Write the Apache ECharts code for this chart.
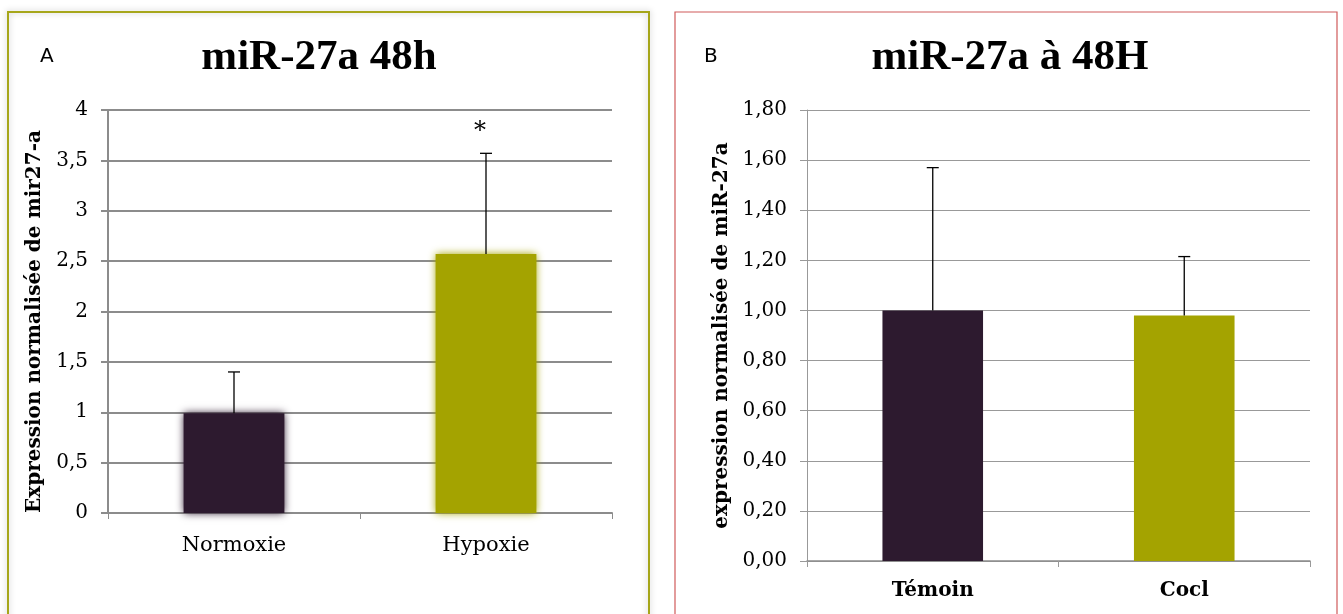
<!DOCTYPE html>
<html>
<head>
<meta charset="utf-8">
<script src="https://cdn.jsdelivr.net/npm/echarts@6/dist/echarts.min.js"></script>
<style>
  html, body { margin: 0; padding: 0; background: #fff; }
  #main { width: 1343px; height: 614px; }
</style>
</head>
<body>
<div id="main"></div>
<script>
// panel A
var catsA = ['Normoxie', 'Hypoxie'];
var valuesA = [0.99, 2.57];
var errorsA = [0.41, 1.0];
var starsA = ['', '*'];

// panel B
var catsB = ['Témoin', 'Cocl'];
var valuesB = [1.0, 0.98];
var errorsB = [0.57, 0.235];

var barColors = ['#2d1a2f', '#a4a300'];

var chartDom = document.getElementById('main');
var myChart = echarts.init(chartDom);
var option;

function errorBars(xIdx, vals, errs, stars) {
    return {
        type: 'custom',
        xAxisIndex: xIdx,
        yAxisIndex: xIdx,
        z: 5,
        data: vals.map(function (v, i) { return [i, v, v + errs[i]]; }),
        renderItem: function (params, api) {
            var lo = api.coord([api.value(0), api.value(1)]);
            var hi = api.coord([api.value(0), api.value(2)]);
            var children = [
                { type: 'line', shape: { x1: lo[0], y1: lo[1], x2: hi[0], y2: hi[1] }, style: { stroke: '#000', lineWidth: 1.3 } },
                { type: 'line', shape: { x1: hi[0] - 6, y1: hi[1], x2: hi[0] + 6, y2: hi[1] }, style: { stroke: '#000', lineWidth: 1.3 } }
            ];
            if (stars && stars[params.dataIndex]) {
                children.push({
                    type: 'text',
                    style: { text: stars[params.dataIndex], x: hi[0] - 6, y: hi[1] - 10, align: 'center', verticalAlign: 'bottom', font: '24px "DejaVu Serif"', fill: '#000' }
                });
            }
            return { type: 'group', children: children };
        }
    };
}

var fmt = function (d) {
    return function (v) { return v.toFixed(d).replace('.', ','); };
};

option = {
    animation: false,
    backgroundColor: '#fff',
    graphic: [
        { type: 'rect', shape: { x: 8, y: 12, width: 641, height: 610 }, style: { fill: 'none', stroke: '#a6a61a', lineWidth: 2, shadowBlur: 6, shadowColor: 'rgba(0,0,0,0.25)' } },
        { type: 'rect', shape: { x: 675, y: 12, width: 662, height: 610 }, style: { fill: 'none', stroke: '#d05a5a', lineWidth: 1.2 } },
        { type: 'text', style: { text: 'A', x: 40, y: 47, font: '20px "DejaVu Sans"', fill: '#000' } },
        { type: 'text', style: { text: 'B', x: 704, y: 47, font: '20px "DejaVu Sans"', fill: '#000' } }
    ],
    title: [
        { text: 'miR-27a 48h', left: 314, top: 31, textAlign: 'center', textStyle: { fontFamily: 'Liberation Serif', fontWeight: 'bold', fontSize: 43, color: '#000' } },
        { text: 'miR-27a à 48H', left: 1005, top: 31, textAlign: 'center', textStyle: { fontFamily: 'Liberation Serif', fontWeight: 'bold', fontSize: 43, color: '#000' } }
    ],
    grid: [
        { left: 108, top: 110, width: 504, height: 403 },
        { left: 807, top: 110, width: 503, height: 451 }
    ],
    xAxis: [
        {
            type: 'category', gridIndex: 0, data: catsA,
            axisLine: { lineStyle: { color: '#8c8c8c', width: 2 } },
            axisTick: { show: true, length: 6, lineStyle: { color: '#8c8c8c' } },
            axisLabel: { fontFamily: 'DejaVu Serif', fontSize: 21, color: '#000', margin: 22 }
        },
        {
            type: 'category', gridIndex: 1, data: catsB,
            axisLine: { lineStyle: { color: '#8c8c8c', width: 1.5 } },
            axisTick: { show: true, length: 6, lineStyle: { color: '#999' } },
            axisLabel: { fontFamily: 'DejaVu Serif', fontWeight: 'bold', fontSize: 20, color: '#000', margin: 20 }
        }
    ],
    yAxis: [
        {
            type: 'value', gridIndex: 0, min: 0, max: 4, interval: 0.5,
            name: 'Expression normalisée de mir27-a', nameLocation: 'middle', nameGap: 63,
            nameTextStyle: { fontFamily: 'DejaVu Serif', fontWeight: 'bold', fontSize: 20, color: '#000', padding: [0, 20, 0, 0] },
            axisLine: { show: true, lineStyle: { color: '#8c8c8c', width: 2 } },
            axisTick: { show: true, length: 7, lineStyle: { color: '#8c8c8c', width: 2 } },
            axisLabel: { fontFamily: 'DejaVu Serif', fontSize: 20, color: '#000', margin: 20, formatter: function (v) { return String(v).replace('.', ','); } },
            splitLine: { lineStyle: { color: '#8c8c8c', width: 2 } }
        },
        {
            type: 'value', gridIndex: 1, min: 0, max: 1.8, interval: 0.2,
            name: 'expression normalisée de miR-27a', nameLocation: 'middle', nameGap: 75,
            nameTextStyle: { fontFamily: 'DejaVu Serif', fontWeight: 'bold', fontSize: 20, color: '#000' },
            axisLine: { show: true, lineStyle: { color: '#999', width: 1 } },
            axisTick: { show: true, length: 7, lineStyle: { color: '#999' } },
            axisLabel: { fontFamily: 'DejaVu Serif', fontSize: 20, color: '#000', margin: 20, formatter: fmt(2) },
            splitLine: { lineStyle: { color: '#999', width: 1.2 } }
        }
    ],
    series: [
        {
            type: 'bar', xAxisIndex: 0, yAxisIndex: 0, barWidth: '40%',
            data: valuesA.map(function (v, i) {
                return { value: v, itemStyle: { color: barColors[i], shadowBlur: 8, shadowColor: barColors[i] } };
            })
        },
        errorBars(0, valuesA, errorsA, starsA),
        {
            type: 'bar', xAxisIndex: 1, yAxisIndex: 1, barWidth: '40%',
            data: valuesB.map(function (v, i) {
                return { value: v, itemStyle: { color: barColors[i] } };
            })
        },
        errorBars(1, valuesB, errorsB, null)
    ]
};

option && myChart.setOption(option);
</script>
</body>
</html>
